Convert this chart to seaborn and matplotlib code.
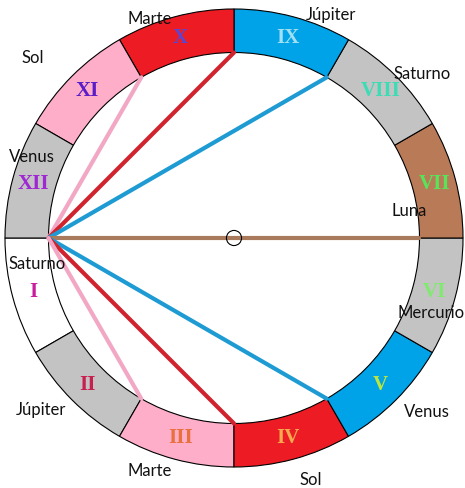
import numpy as np
import pandas as pd
import matplotlib
matplotlib.use('Agg')
import matplotlib.pyplot as plt
from matplotlib.patches import Wedge, Circle
import seaborn as sns

# Houses I..XII, counter-clockwise from the ascendant (left)
numerals = ['I', 'II', 'III', 'IV', 'V', 'VI', 'VII', 'VIII', 'IX', 'X', 'XI', 'XII']
planets = ['Saturno', 'Júpiter', 'Marte', 'Sol', 'Venus', 'Mercurio',
           'Luna', 'Saturno', 'Júpiter', 'Marte', 'Sol', 'Venus']
house_colors = ['#ffffff', '#c3c3c3', '#ffaec9', '#ed1c24', '#00a2e8', '#c3c3c3',
                '#b97a57', '#c3c3c3', '#00a2e8', '#ed1c24', '#ffaec9', '#c3c3c3']
numeral_colors = ['#c81e9e', '#c81e50', '#e8703c', '#f5aa50', '#bde63c', '#80ea70',
                  '#58e458', '#3cdcb4', '#a0e0f0', '#5a46d2', '#5a1ec8', '#a028d2']

# Aspect lines from the ascendant to house cusps (degrees)
chord_targets = [120, 90, 60, 0, 300, 270, 240]
chord_colors = ['#f2a8c4', '#d0232e', '#1f9bd3', '#a97b5c', '#1f9bd3', '#d0232e', '#f2a8c4']

# Layout of planet labels (angle deg, radius in outer-radius units)
label_angle = [187.5, 221.7, 250.2, 287.6, 318.0, 339.2, 8.8, 41.1, 66.5, 110.9, 138.3, 158.1]
label_radius = [0.868, 1.129, 1.082, 1.109, 1.135, 0.92, 0.773, 1.09, 1.062, 1.026, 1.179, 0.95]

R_OUT = 1.0
R_IN = 0.81
ASC = 180.0


def polar(angle, r):
    a = np.deg2rad(angle)
    return r * np.cos(a), r * np.sin(a)


sns.set_theme(style='white')
fig = plt.figure(figsize=(4.65, 4.88), dpi=100)
ax = fig.add_axes([0, 0, 1, 1])

# ring of houses
for i, col in enumerate(house_colors):
    start = ASC + 30 * i
    ax.add_patch(Wedge((0, 0), R_OUT, start, start + 30, width=R_OUT - R_IN,
                       facecolor=col, edgecolor='black', linewidth=0.8, zorder=1))
    nx, ny = polar(start + 15, (R_OUT + R_IN) / 2)
    ax.text(nx, ny, numerals[i], color=numeral_colors[i], fontsize=15,
            fontweight='bold', family='Liberation Serif',
            ha='center', va='center', zorder=4)

# aspect lines
x0, y0 = polar(ASC, R_IN)
rows = []
for k, t in enumerate(chord_targets):
    x1, y1 = polar(t, R_IN)
    rows.append({'chord': k, 'x': x0, 'y': y0})
    rows.append({'chord': k, 'x': x1, 'y': y1})
lines = pd.DataFrame(rows)
sns.lineplot(data=lines, x='x', y='y', hue='chord',
             palette=dict(enumerate(chord_colors)), sort=False, estimator=None,
             linewidth=3, legend=False, ax=ax, zorder=2)

# centre marker
ax.add_patch(Circle((0, 0), 0.033, facecolor='none', edgecolor='black',
                    linewidth=0.8, zorder=3))

# planet labels
for i, name in enumerate(planets):
    lx, ly = polar(label_angle[i], label_radius[i])
    ax.text(lx, ly, name, fontsize=12, family='Lato', color='#111111',
            ha='center', va='center', zorder=5)

ax.set_xlim(-234 / 229, 231 / 229)
ax.set_ylim(-250 / 229, 238 / 229)
ax.set_axis_off()
fig.savefig('out.png', dpi=100, facecolor='white')
